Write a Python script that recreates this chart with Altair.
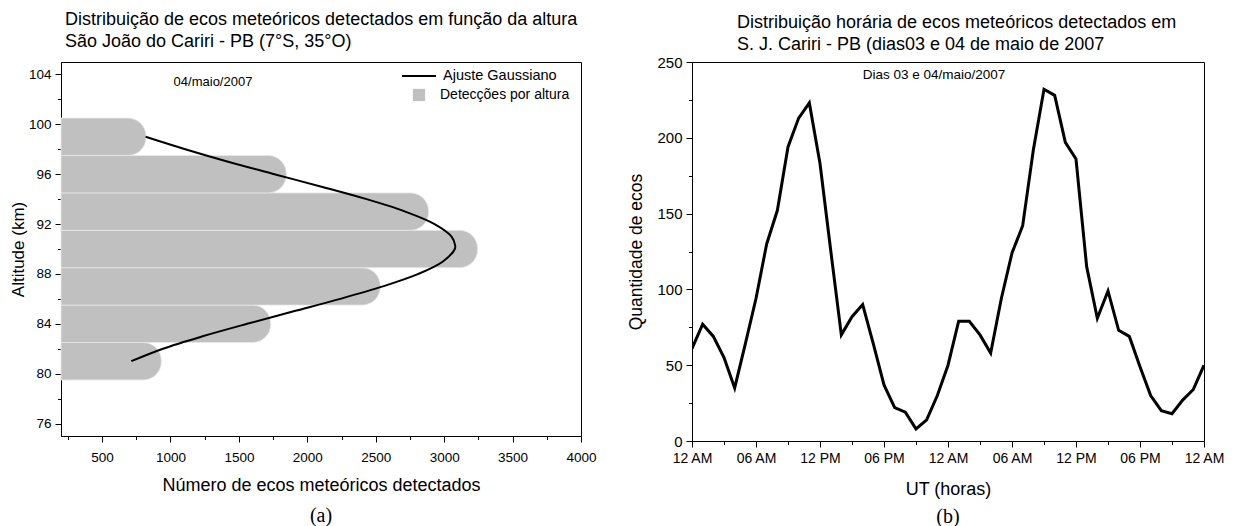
import json
import altair as alt
import pandas as pd

# ---------------- data ----------------
# (a) detections per altitude bin
altitudes = [81, 84, 87, 90, 93, 96, 99]
detections = [933, 1732, 2533, 3244, 2886, 1846, 821]
bin_half_width = 1.5

# (a) Gaussian fit curve
gauss_alt = [81, 82, 83, 84, 85, 86, 87, 88, 89, 90, 90.3, 91, 92, 93, 94, 95, 96, 97, 98, 99]
gauss_count = [714, 945, 1235, 1560, 1900, 2240, 2552, 2812, 2991, 3078, 3080, 3054, 2930,
               2716, 2433, 2104, 1759, 1421, 1108, 818]

# (b) hourly echoes, 03 and 04 May 2007
hours = list(range(49))
echoes = [61, 77, 69, 55, 35, 64, 94, 130, 152, 194, 213, 223, 183, 126, 70, 82, 90, 64, 37, 22, 19, 8, 14, 30,
          50, 79, 79, 70, 58, 94, 124, 142, 192, 232, 228, 197, 186, 115, 81, 99, 73, 69, 49, 30, 20, 18, 27, 34, 50]
hour_labels = ["12 AM", "06 AM", "12 PM", "06 PM"]

x_ticks_a = list(range(250, 4001, 250))
y_ticks_a = list(range(76, 105, 2))
x_ticks_b = list(range(0, 49, 3))
y_ticks_b = list(range(0, 251, 25))

title_a = ["Distribuição de ecos meteóricos detectados em função da altura",
           "São João do Cariri - PB (7°S, 35°O)"]
title_b = ["Distribuição horária de ecos meteóricos detectados em",
           "S. J. Cariri - PB (dias03 e 04 de maio de 2007"]
note_a = ["04/maio/2007"]
note_b = ["Dias 03 e 04/maio/2007"]
legend_line = "Ajuste Gaussiano"
legend_bar = "Detecções por altura"

FONT = "Liberation Sans"
W1, H1 = 520, 374
W2, H2 = 512, 379


def is_major(step):
    return f"abs(datum.value - round(datum.value / {step}) * {step}) < 0.5"


def tick_size(step):
    return {"condition": {"test": is_major(step), "value": 6}, "value": 3.5}


# ---------------- panel (a) ----------------
bars_df = pd.DataFrame({"alt": altitudes, "n": detections, "serie": [legend_bar] * len(altitudes)})
gauss_df = pd.DataFrame({"alt": gauss_alt, "n": gauss_count, "serie": [legend_line] * len(gauss_alt)})

xL = alt.Scale(domain=[200, 4000], nice=False, zero=False)
yL = alt.Scale(domain=[75, 105], nice=False, zero=False)

x_axis_L = alt.Axis(
    values=x_ticks_a,
    labelExpr=f"{is_major(500)} ? format(datum.value, 'd') : ''",
    tickSize=tick_size(500),
    title="Número de ecos meteóricos detectados",
    labelOverlap=False, labelFlush=False, labelPadding=8, titlePadding=13,
    grid=False,
)
y_axis_L = alt.Axis(
    values=y_ticks_a,
    labelExpr=f"{is_major(4)} ? format(datum.value, 'd') : ''",
    tickSize=tick_size(4),
    title="Altitude (km)", titleFontSize=17,
    labelOverlap=False, labelFlush=False, labelPadding=4, titlePadding=1,
    grid=False,
)

bars = alt.Chart(bars_df).transform_calculate(
    lo=f"datum.alt - {bin_half_width}", hi=f"datum.alt + {bin_half_width}"
).mark_rect(
    cornerRadiusTopRight=18, cornerRadiusBottomRight=18,
    stroke="#e8e8e8", strokeWidth=0.8,
).encode(
    x=alt.X("n:Q", scale=xL, axis=x_axis_L),
    x2=alt.datum(200),
    y=alt.Y("lo:Q", scale=yL, axis=y_axis_L),
    y2="hi:Q",
    fill=alt.Fill(
        "serie:N", scale=alt.Scale(domain=[legend_bar], range=["#c0c0c0"]),
        legend=alt.Legend(
            title=None, orient="none", legendX=351, legendY=26, padding=0,
            symbolType="square", symbolSize=150, symbolStrokeWidth=0,
            labelFontSize=14, labelFont=FONT, labelOffset=14, labelColor="black",
        ),
    ),
)

gline = alt.Chart(gauss_df).mark_line(strokeWidth=2, interpolate="catmull-rom").encode(
    x=alt.X("n:Q", scale=xL, axis=x_axis_L),
    y=alt.Y("alt:Q", scale=yL, axis=y_axis_L),
    order="alt:Q",
    color=alt.Color(
        "serie:N", scale=alt.Scale(domain=[legend_line], range=["black"]),
        legend=alt.Legend(
            title=None, orient="none", legendX=340, legendY=-4, padding=0,
            symbolType="stroke", symbolSize=1156, symbolStrokeWidth=2,
            labelFontSize=14.5, labelFont=FONT, labelOffset=6, labelColor="black",
        ),
    ),
)

txt_a = alt.Chart(pd.DataFrame({"t": note_a})).mark_text(
    font=FONT, fontSize=13, color="black"
).encode(text="t:N", x=alt.value(152), y=alt.value(20))

lab_a = alt.Chart(pd.DataFrame({"t": ["(a)"]})).mark_text(
    font="Liberation Serif", fontSize=20, color="black"
).encode(text="t:N", x=alt.value(W1 / 2), y=alt.value(454))

left = alt.layer(bars, gline, txt_a, lab_a).resolve_scale(color="independent", fill="independent").properties(
    width=W1, height=H1,
    title=alt.TitleParams(
        text=title_a, anchor="start", frame="group", dx=4, fontSize=18, font=FONT,
        fontWeight="normal", lineHeight=22, offset=7, color="black",
    ),
)

# ---------------- panel (b) ----------------
hour_df = pd.DataFrame({"h": hours, "n": echoes})
xR = alt.Scale(domain=[0, 48], nice=False, zero=False)
yR = alt.Scale(domain=[0, 250], nice=False)

x_axis_R = alt.Axis(
    values=x_ticks_b,
    labelExpr=f"{is_major(6)} ? {json.dumps(hour_labels)}[round(datum.value / 6) % 4] : ''",
    tickSize=tick_size(6),
    title="UT (horas)",
    labelOverlap=False, labelFlush=False, labelPadding=4, titlePadding=15,
    labelFontSize=14, grid=False,
)
y_axis_R = alt.Axis(
    values=y_ticks_b,
    labelExpr=f"{is_major(50)} ? format(datum.value, 'd') : ''",
    tickSize=tick_size(50),
    title="Quantidade de ecos", titleFontSize=17.5,
    labelOverlap=False, labelFlush=False, labelPadding=4, titlePadding=11,
    labelFontSize=15, grid=False,
)

hline = alt.Chart(hour_df).mark_line(strokeWidth=3, color="black", clip=True).encode(
    x=alt.X("h:Q", scale=xR, axis=x_axis_R),
    y=alt.Y("n:Q", scale=yR, axis=y_axis_R),
)

txt_b = alt.Chart(pd.DataFrame({"t": note_b})).mark_text(
    font=FONT, fontSize=13.5, color="black"
).encode(text="t:N", x=alt.value(242), y=alt.value(13))

lab_b = alt.Chart(pd.DataFrame({"t": ["(b)"]})).mark_text(
    font="Liberation Serif", fontSize=20, color="black"
).encode(text="t:N", x=alt.value(W2 / 2), y=alt.value(455))

right = alt.layer(hline, txt_b, lab_b).properties(
    width=W2, height=H2,
    title=alt.TitleParams(
        text=title_b, anchor="start", frame="group", dx=45, fontSize=18, font=FONT,
        fontWeight="normal", lineHeight=22, offset=1, color="black",
    ),
)

chart = alt.concat(left, right, columns=2, spacing=30, align="none").properties(
    padding={"left": 8, "top": 10, "right": 0, "bottom": 0},
    background="white",
).configure_view(
    stroke="black", strokeWidth=1
).configure_axis(
    labelFont=FONT, titleFont=FONT, labelFontSize=13.5, titleFontSize=18,
    titleFontWeight="normal", labelColor="black", titleColor="black",
    domainColor="black", tickColor="black", domainWidth=1, tickWidth=1,
)

chart.save("out.html", embed_options={"renderer": "svg", "actions": False})
